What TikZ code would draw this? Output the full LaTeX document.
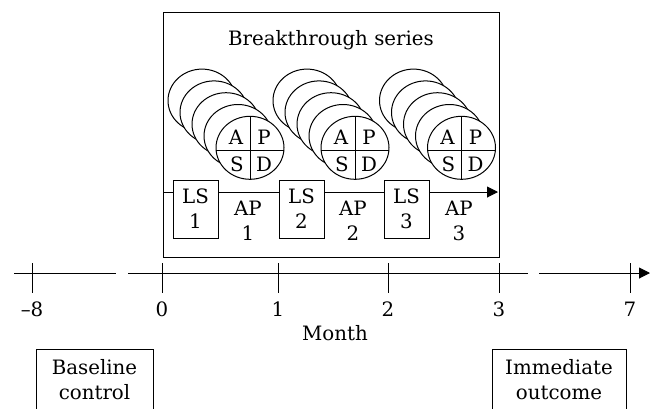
\documentclass[tikz,border=0pt]{standalone}
\usepackage{fontspec}
\setmainfont{DejaVu Serif}
\usetikzlibrary{arrows.meta}
\begin{document}
\begin{tikzpicture}[x=1bp,y=-1bp,line width=1bp,
  every node/.style={font=\fontsize{19.8bp}{25bp}\selectfont,inner sep=0pt},
  lsbox/.style={draw,fill=white,minimum width=45bp,minimum height=58bp,align=center},
  txt/.style={align=center},
  pdsa/.style={draw,fill=white},
  arr/.style={-{Triangle[length=11bp,width=11bp]}}
]
\useasboundingbox (0,0) rectangle (653,408);
% main box
\draw (163,12) rectangle (499,257);
\node[txt] (title) at (331,40) {Breakthrough series};
% inner arrow
\coordinate (ia) at (163,192);
\coordinate (ib) at (498,192);
\draw[arr] (ia) -- (ib);
% PDSA stacks
\foreach \cx/\i in {250/1,355/2,461.5/3}{
  \foreach \k in {4,3,2,1,0}{
    \draw[pdsa] (\cx-12*\k,147.8-11.8*\k) ellipse [x radius=34,y radius=31.5];
  }
  \draw (\cx-33.8,150.8) -- (\cx+33.8,150.8);
  \draw (\cx,116.3) -- (\cx,179.3);
  \node (A\i) at (\cx-14,137.5) {A};
  \node (P\i) at (\cx+14,137.5) {P};
  \node (S\i) at (\cx-13,164.5) {S};
  \node (D\i) at (\cx+14,164.5) {D};
}
% LS boxes and AP labels
\node[lsbox] (ls1) at (195.5,209) {LS\\1};
\node[lsbox] (ls2) at (301.5,209) {LS\\2};
\node[lsbox] (ls3) at (406.5,209) {LS\\3};
\node[txt] (ap1) at (248,220.5) {AP\\1};
\node[txt] (ap2) at (353,220.5) {AP\\2};
\node[txt] (ap3) at (459,220.5) {AP\\3};
% time axis
\coordinate (s1a) at (14,273);
\coordinate (s1b) at (116,273);
\coordinate (s2a) at (128,273);
\coordinate (s2b) at (528,273);
\coordinate (s3a) at (539,273);
\coordinate (s3b) at (650,273);
\draw (s1a) -- (s1b);
\draw (s2a) -- (s2b);
\draw[arr] (s3a) -- (s3b);
\foreach \x/\l/\n in {32/{–8}/m8,162/0/t0,278/1/t1,388/2/t2,499/3/t3,630/7/t7}{
  \coordinate (\n top) at (\x,263);
  \coordinate (\n bot) at (\x,293);
  \draw (\n top) -- (\n bot);
  \node (\n lab) at (\x,309) {\l};
}
\node (month) at (335,333.5) {Month};
% bottom boxes
\draw (36,415) |- (153,349) -- (153,415);
\node[txt] (base) at (94.5,380) {Baseline\\control};
\draw (492,415) |- (626,349) -- (626,415);
\node[txt] (imm) at (559,380) {Immediate\\outcome};
\end{tikzpicture}
\end{document}
